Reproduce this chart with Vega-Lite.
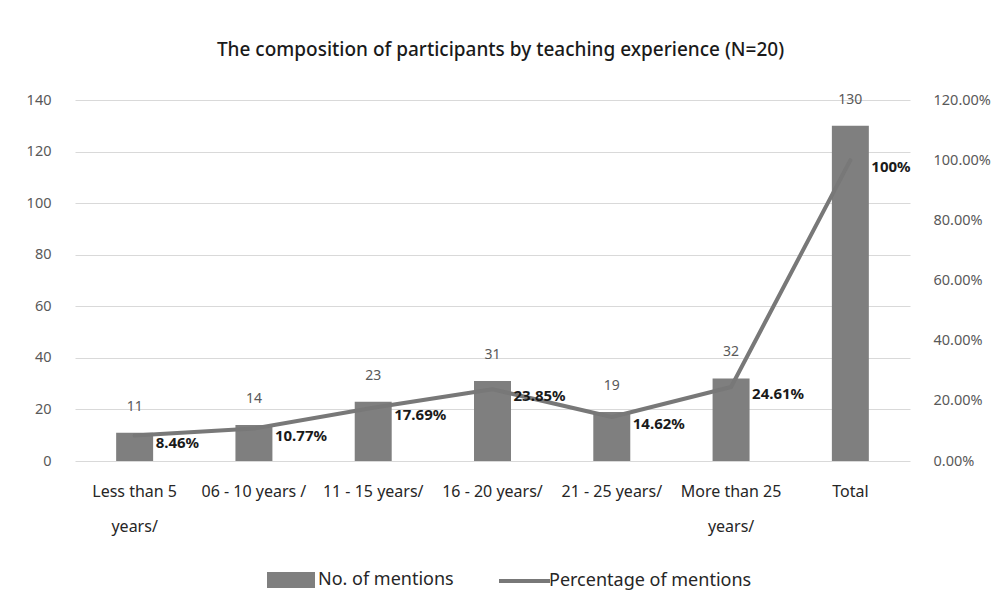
{
  "$schema": "https://vega.github.io/schema/vega-lite/v6.json",
  "autosize": {"type": "none"},
  "width": 835,
  "height": 361,
  "padding": {"left": 75, "top": 100, "right": 90, "bottom": 148},
  "background": "white",
  "title": {
    "text": "The composition of participants by teaching experience (N=20)",
    "font": "Noto Sans",
    "fontSize": 19,
    "fontWeight": 500,
    "color": "#1a1a1a",
    "anchor": "middle",
    "dx": 8,
    "offset": 32
  },
  "data": {
    "values": [
      {"cat": "Less than 5\nyears/", "count": 11, "pct": 0.0846, "pctLabel": "8.46%"},
      {"cat": "06 - 10 years /", "count": 14, "pct": 0.1077, "pctLabel": "10.77%"},
      {"cat": "11 - 15 years/", "count": 23, "pct": 0.1769, "pctLabel": "17.69%"},
      {"cat": "16 - 20 years/", "count": 31, "pct": 0.2385, "pctLabel": "23.85%"},
      {"cat": "21 - 25 years/", "count": 19, "pct": 0.1462, "pctLabel": "14.62%"},
      {"cat": "More than 25\nyears/", "count": 32, "pct": 0.2461, "pctLabel": "24.61%"},
      {"cat": "Total", "count": 130, "pct": 1.0, "pctLabel": "100%"}
    ]
  },
  "encoding": {
    "x": {
      "field": "cat",
      "type": "nominal",
      "sort": null,
      "scale": {"paddingInner": 0.69, "paddingOuter": 0.345},
      "axis": {
        "title": null,
        "labelAngle": 0,
        "domain": false,
        "ticks": false,
        "labelExpr": "split(datum.label, '\\n')",
        "labelFont": "Noto Sans",
        "labelFontSize": 16,
        "labelColor": "#262626",
        "labelPadding": 22,
        "labelLineHeight": 35,
        "labelLimit": 200
      }
    }
  },
  "layer": [
    {
      "encoding": {
        "y": {
          "field": "count",
          "type": "quantitative",
          "scale": {"domain": [0, 140]},
          "axis": {
            "title": null,
            "values": [0, 20, 40, 60, 80, 100, 120, 140],
            "orient": "left",
            "domain": false,
            "ticks": false,
            "grid": true,
            "gridColor": "#d9d9d9",
            "gridWidth": 1.2,
            "labelFont": "Noto Sans",
            "labelFontSize": 14.5,
            "labelColor": "#595959",
            "labelPadding": 24
          }
        }
      },
      "layer": [
        {
          "mark": {"type": "bar", "color": "#7f7f7f"},
          "encoding": {
            "fill": {
              "datum": "No. of mentions",
              "type": "nominal",
              "scale": {"range": ["#7f7f7f"]},
              "legend": {
                "title": null,
                "orient": "none",
                "legendX": 207,
                "legendY": 471,
                "symbolType": "M-3,-1H3V1H-3Z",
                "symbolSize": 256,
                "symbolStrokeWidth": 0,
                "labelOffset": 18,
                "labelLimit": 300,
                "labelFont": "Noto Sans",
                "labelFontSize": 18,
                "labelColor": "#262626"
              }
            }
          }
        },
        {
          "mark": {"type": "text", "dy": -26, "baseline": "middle", "font": "Noto Sans", "fontSize": 14, "color": "#595959"},
          "encoding": {"text": {"field": "count", "type": "quantitative"}}
        }
      ]
    },
    {
      "encoding": {
        "y": {
          "field": "pct",
          "type": "quantitative",
          "scale": {"domain": [0, 1.2]},
          "axis": {
            "title": null,
            "orient": "right",
            "values": [0, 0.2, 0.4, 0.6, 0.8, 1.0, 1.2],
            "format": ".2%",
            "domain": false,
            "ticks": false,
            "grid": false,
            "labelFont": "Noto Sans",
            "labelFontSize": 14.5,
            "labelColor": "#595959",
            "labelPadding": 23
          }
        }
      },
      "layer": [
        {
          "mark": {"type": "line", "strokeWidth": 4, "strokeCap": "round", "strokeJoin": "round"},
          "encoding": {
            "stroke": {
              "datum": "Percentage of mentions",
              "type": "nominal",
              "scale": {"range": ["#787878"]},
              "legend": {
                "title": null,
                "orient": "none",
                "legendX": 439,
                "legendY": 470.5,
                "symbolType": "M-3,0H3",
                "symbolSize": 289,
                "symbolStrokeWidth": 4,
                "labelOffset": 14,
                "labelLimit": 300,
                "labelFont": "Noto Sans",
                "labelFontSize": 18,
                "labelColor": "#262626"
              }
            }
          }
        },
        {
          "mark": {"type": "text", "align": "left", "baseline": "middle", "dx": 21, "dy": 7, "font": "Noto Sans", "fontSize": 15, "fontWeight": "bold", "color": "#1a1a1a"},
          "encoding": {"text": {"field": "pctLabel", "type": "nominal"}}
        }
      ]
    }
  ],
  "resolve": {"scale": {"y": "independent"}},
  "config": {
    "view": {"stroke": null}
  }
}
